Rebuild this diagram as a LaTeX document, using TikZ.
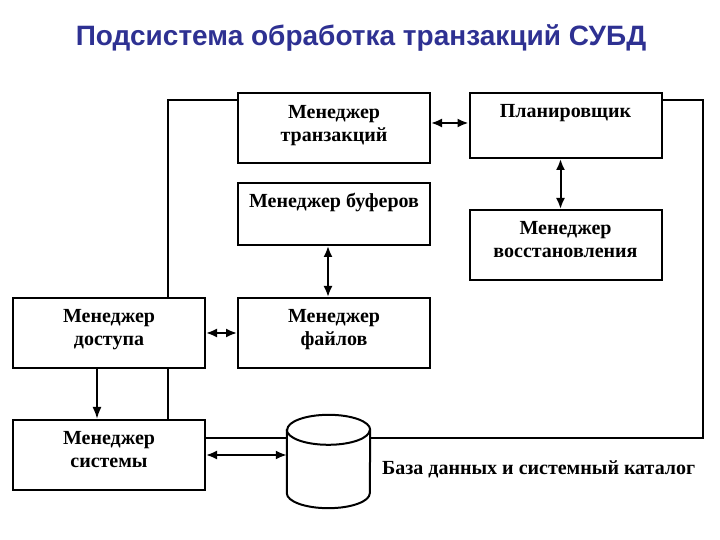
\documentclass[tikz,border=0pt]{standalone}
\usepackage{fontspec}
\setmainfont{Liberation Serif}
\newfontfamily\titlefont{Liberation Sans}
\usepackage{xcolor}
\usetikzlibrary{arrows.meta,backgrounds}
\definecolor{titleblue}{RGB}{46,49,146}

\begin{document}
\begin{tikzpicture}[x=1pt, y=1pt,
    box/.style={draw, fill=white, line width=2pt, minimum width=192pt, minimum height=70pt, inner sep=0pt},
    txt/.style={anchor=north, align=center, inner sep=0pt, font=\fontsize{20}{23.5}\selectfont\bfseries},
    wire/.style={line width=2pt},
    one/.style={wire, -{Latex[length=12pt, width=9pt]}},
    both/.style={wire, {Latex[length=11pt, width=9pt]}-{Latex[length=11pt, width=9pt]}}]
      %\draw [dotted] (0,0) grid[step=20] (720,540);
      \useasboundingbox (0,0) rectangle (720,540);
      \node [font=\titlefont\fontsize{28}{32}\selectfont\bfseries, text=titleblue] (title) at (361, 502) {Подсистема обработка транзакций СУБД};
      \node [box]                      (trans)  at (334.0, 412.0) {};
      \node [box, minimum height=65pt] (sched)  at (565.5, 414.5) {};
      \node [box, minimum height=62pt] (buf)    at (334.0, 326.0) {};
      \node [box]                      (recov)  at (565.5, 295.0) {};
      \node [box]                      (access) at (109.0, 207.0) {};
      \node [box]                      (files)  at (334.0, 207.0) {};
      \node [box]                      (sys)    at (109.0,  85.0) {};
      \node [txt] (transt)  at ([yshift=-13pt]trans.north)  {Менеджер\\транзакций};
      \node [txt] (schedt)  at ([yshift=-12pt]sched.north)  {Планировщик};
      \node [txt] (buft)    at ([yshift=-11pt]buf.north)    {Менеджер буферов};
      \node [txt] (recovt)  at ([yshift=-12pt]recov.north)  {Менеджер\\восстановления};
      \node [txt] (accesst) at ([yshift=-12pt]access.north) {Менеджер\\доступа};
      \node [txt] (filest)  at ([yshift=-12pt]files.north)  {Менеджер\\файлов};
      \node [txt] (syst)    at ([yshift=-12pt]sys.north)    {Менеджер\\системы};
      % database
      \node [minimum width=83pt, minimum height=93pt, inner sep=0pt] (db) at (328.5, 78.5) {};
      \filldraw [wire, fill=white] ([yshift=-15pt]db.north west) -- ([yshift=15pt]db.south west)
        arc [start angle=180, end angle=360, x radius=41.5pt, y radius=15pt]
        -- ([yshift=-15pt]db.north east)
        arc [start angle=0, end angle=180, x radius=41.5pt, y radius=15pt] -- cycle;
      \draw [wire] ([yshift=-15pt]db.north west) arc [start angle=180, end angle=360, x radius=41.5pt, y radius=15pt];
      \node [anchor=west, inner sep=0pt, font=\fontsize{20}{23}\selectfont\bfseries] (dbt) at (382, 71) {База данных и системный каталог};
      \coordinate (lc) at (168, 440);
      \coordinate (rc) at (703, 440);
      \coordinate (rb) at (703, 102);
      \begin{scope}[on background layer]
      \draw [wire] (trans.west |- lc) -- (lc) -- (lc |- sys.north);
      \draw [wire] (sched.east |- rc) -- (rc) -- (rb) -- (rb -| sys.east);
      \end{scope}
      \draw [both] ([yshift=5pt]trans.east) -- ([yshift=5pt]trans.east -| sched.west);
      \draw [both] ([xshift=-5pt]sched.south) -- ([xshift=-5pt]sched.south |- recov.north);
      \draw [both] ([xshift=-6pt]buf.south) -- ([xshift=-6pt]buf.south |- files.north);
      \draw [both] (access.east) -- (files.west);
      \draw [one] ([xshift=-12pt]access.south) -- ([xshift=-12pt]access.south |- sys.north);
      \draw [both] (sys.east) -- (sys.east -| db.west);
\end{tikzpicture}
\end{document}
